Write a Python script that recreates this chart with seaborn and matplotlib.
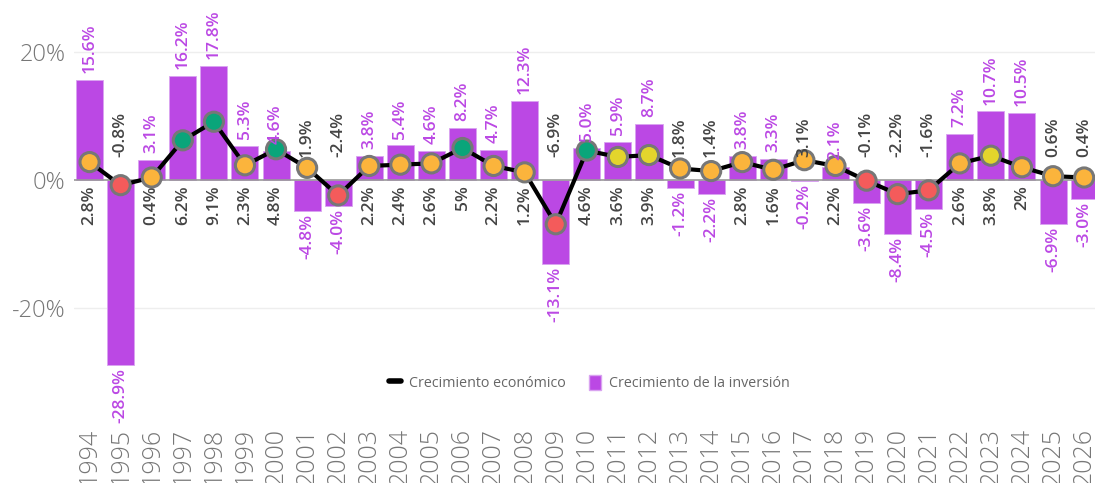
import numpy as np
import pandas as pd
import seaborn as sns
import matplotlib.pyplot as plt
from matplotlib.lines import Line2D
from matplotlib.patches import Patch

# Data
years = list(range(1994, 2027))
gdp = [2.8, -0.8, 0.4, 6.2, 9.1, 2.3, 4.8, 1.9, -2.4, 2.2, 2.4, 2.6, 5, 2.2, 1.2, -6.9,
       4.6, 3.6, 3.9, 1.8, 1.4, 2.8, 1.6, 3.1, 2.2, -0.1, -2.2, -1.6, 2.6, 3.8, 2, 0.6, 0.4]
inv = [15.6, -28.9, 3.1, 16.2, 17.8, 5.3, 4.6, -4.8, -4.0, 3.8, 5.4, 4.6, 8.2, 4.7, 12.3, -13.1,
       5.0, 5.9, 8.7, -1.2, -2.2, 3.8, 3.3, -0.2, 2.1, -3.6, -8.4, -4.5, 7.2, 10.7, 10.5, -6.9, -3.0]

df = pd.DataFrame({'year': [str(y) for y in years], 'gdp': gdp, 'inv': inv})
df['pos'] = np.arange(len(df))

def band(v):
    if v < 0:
        return 'neg'
    if v < 3.5:
        return 'low'
    if v < 4.5:
        return 'mid'
    return 'high'

df['band'] = df['gdp'].apply(band)
palette = {'neg': '#f45b5b', 'low': '#fbb43c', 'mid': '#e3d52c', 'high': '#0aa57a'}

PURPLE = '#bb48e4'
GREY = '#777777'

sns.set_style('white')
plt.rcParams['font.family'] = ['Open Sans', 'DejaVu Sans']

fig = plt.figure(figsize=(10.95, 4.83), dpi=100)
ax = fig.add_axes([0.0676, 0.151, 0.9324, 0.849])

sns.barplot(data=df, x='year', y='inv', color=PURPLE, saturation=1, width=0.87,
            edgecolor='#d9a3f0', linewidth=0.6, ax=ax, zorder=2)
ax.plot(df['pos'], df['gdp'], color='black', lw=3, zorder=3)
sns.scatterplot(data=df, x='pos', y='gdp', hue='band', palette=palette, s=190,
                edgecolor='#777777', linewidth=2.2, legend=False, ax=ax, zorder=4)

# value labels
lab = dict(rotation=90, ha='center', fontsize=12.5, fontweight='semibold',
           textcoords='offset points', zorder=5)
for i, r in df.iterrows():
    if r['inv'] >= 0:
        ax.annotate(f"{r['inv']:.1f}%", (i, r['inv']), xytext=(0, 5), va='bottom',
                    color=PURPLE, **lab)
        ax.annotate(f"{r['gdp']:g}%", (i, 0), xytext=(0, -4), va='top',
                    color='#444444', **lab)
    else:
        ax.annotate(f"{r['inv']:.1f}%", (i, r['inv']), xytext=(0, -2), va='top',
                    color=PURPLE, **lab)
        ax.annotate(f"{r['gdp']:g}%", (i, 0), xytext=(0, 16.5), va='bottom',
                    color='#444444', **lab)

ax.set_xlim(-0.5, 32.35)
ax.set_ylim(-35.9, 28.1)
ax.set_yticks([-20, 0, 20])
ax.set_yticklabels(['-20%', '0%', '20%'])
ax.axhline(20, color='#eeeeee', lw=1, zorder=0)
ax.axhline(-20, color='#eeeeee', lw=1, zorder=0)
ax.axhline(0, color='#999999', lw=1.2, zorder=2.5)
ax.set_xlabel('')
ax.set_ylabel('')
ax.tick_params(axis='x', labelrotation=90, labelsize=18, colors=GREY, pad=13, length=0)
ax.tick_params(axis='y', labelsize=17, colors=GREY, pad=6, length=0)
for t in ax.get_xticklabels() + ax.get_yticklabels():
    t.set_fontweight('light')
for s in ax.spines.values():
    s.set_visible(False)

handles = [Line2D([0], [0], color='black', lw=4),
           Patch(facecolor=PURPLE, edgecolor='#d9a3f0')]
leg = ax.legend(handles, ['Crecimiento económico', 'Crecimiento de la inversión'],
                loc='center', bbox_to_anchor=(0.505, 0.066), ncol=2, frameon=False,
                fontsize=10.3, handlelength=0.8, handleheight=1.2, handletextpad=0.6,
                columnspacing=1.6)
for t in leg.get_texts():
    t.set_color('#666666')

fig.savefig('out.png', dpi=100)
